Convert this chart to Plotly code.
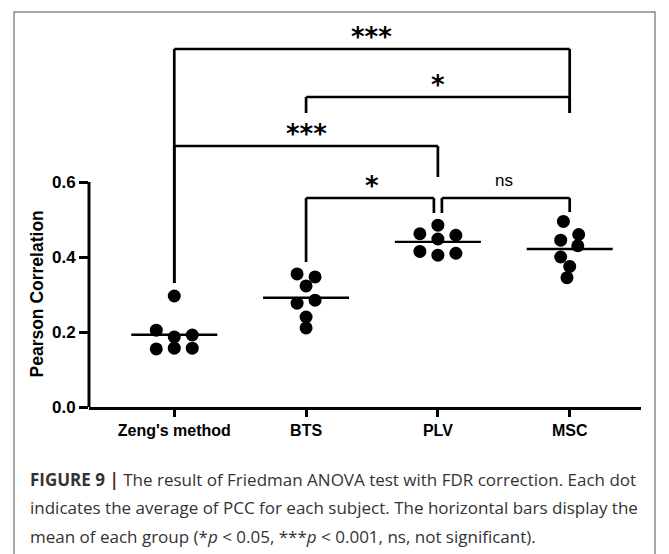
import plotly.graph_objects as go

# ---------------- data ----------------
categories = ["Zeng's method", "BTS", "PLV", "MSC"]
zeng_values = [0.296, 0.205, 0.192, 0.187, 0.155, 0.157, 0.157]
bts_values = [0.355, 0.347, 0.323, 0.285, 0.277, 0.240, 0.211]
plv_values = [0.485, 0.462, 0.458, 0.448, 0.415, 0.405, 0.410]
msc_values = [0.495, 0.460, 0.445, 0.430, 0.400, 0.375, 0.345]
y_tick_values = [0.0, 0.2, 0.4, 0.6]
y_tick_labels = ["0.0", "0.2", "0.4", "0.6"]
# significance comparisons: (group a, group b, label)
comparisons = [(0, 3, "***"), (1, 3, "*"), (0, 2, "***"), (1, 2, "*"), (2, 3, "ns")]

groups = [zeng_values, bts_values, plv_values, msc_values]

# ---------------- layout helpers (positions, not data) ----------------
W, H = 669, 554
ML, MR, MT, MB = 89, 28, 32, 147
PW, PH = W - ML - MR, H - MT - MB
XR = [-0.647, 3.541]
YR = [0.0, 1.0]
px_x = (XR[1] - XR[0]) / PW      # x units per pixel
px_y = (YR[1] - YR[0]) / PH      # y units per pixel

# swarm offsets (in dot-step units) for each dot of each group
swarm = [
    [0, -1, 1, 0, -1, 0, 1],
    [-0.5, 0.5, 0, 0.5, -0.5, 0, 0],
    [0, -1, 1, 0, -1, 0, 1],
    [-0.35, 0.5, -0.5, 0.45, -0.5, 0, -0.15],
]
step = 18 * px_x
half_bar = 43 * px_x

# bracket geometry (pixel rows): level, left drop end, right drop end
brackets = [
    dict(level=49, ldrop=283, rdrop=113, lgap=0, rgap=0),
    dict(level=97, ldrop=113, rdrop=113, lgap=0, rgap=0),
    dict(level=146, ldrop=283, rdrop=177, lgap=0, rgap=0),
    dict(level=198, ldrop=262, rdrop=213, lgap=0, rgap=-4),
    dict(level=198, ldrop=213, rdrop=212, lgap=4, rgap=0),
]


def py(pix):
    """pixel row -> data y"""
    return YR[0] + ((MT + PH) - pix) * px_y


fig = go.Figure()

# dots + mean bars
for i, vals in enumerate(groups):
    xs = [i + o * step for o in swarm[i]]
    fig.add_trace(go.Scatter(
        x=xs, y=vals, mode="markers",
        marker=dict(size=13, color="black"),
        showlegend=False, hoverinfo="skip"))
    m = sum(vals) / len(vals)
    fig.add_trace(go.Scatter(
        x=[i - half_bar, i + half_bar], y=[m, m], mode="lines",
        line=dict(color="black", width=2.4),
        showlegend=False, hoverinfo="skip"))

shapes = []
annotations = []
for (a, b, lab), g in zip(comparisons, brackets):
    xa = a + g["lgap"] * px_x
    xb = b + g["rgap"] * px_x
    yl = py(g["level"])
    for x0, y0, x1, y1 in [(xa, yl, xb, yl), (xa, yl, xa, py(g["ldrop"])),
                           (xb, yl, xb, py(g["rdrop"]))]:
        shapes.append(dict(type="line", xref="x", yref="y", x0=x0, y0=y0,
                           x1=x1, y1=y1, line=dict(color="black", width=2.7)))
    if lab == "ns":
        annotations.append(dict(x=(a + b) / 2, y=yl, xref="x", yref="y",
                                text=lab, showarrow=False, yanchor="middle",
                                yshift=18, font=dict(size=17, color="black",
                                family="Liberation Sans, Arial")))
    else:
        annotations.append(dict(x=(a + b) / 2, y=yl, xref="x", yref="y",
                                text=lab, showarrow=False, yanchor="middle",
                                yshift=12, font=dict(size=26, color="black",
                                family="DejaVu Sans", weight="bold")))

# y axis line (only 0 .. 0.6)
shapes.append(dict(type="line", xref="paper", yref="y", x0=0, x1=0,
                   y0=0, y1=y_tick_values[-1], line=dict(color="black", width=3)))

# outer frame
shapes.append(dict(type="rect", xref="paper", yref="paper",
                   x0=(14 - ML) / PW, x1=(655 - ML) / PW,
                   y0=-0.45, y1=(MT + PH - 12) / PH,
                   line=dict(color="#8a8a8a", width=1.5)))

# y axis title
annotations.append(dict(x=(38 - ML) / PW, y=0.3, xref="paper", yref="y",
                        xanchor="center", yanchor="middle", xshift=-2,
                        text="Pearson Correlation", textangle=-90, showarrow=False,
                        font=dict(size=17.5, color="black",
                                  family="Liberation Sans, Arial", weight="bold")))

caption = [
    "<b>FIGURE 9 |</b> The result of Friedman ANOVA test with FDR correction. Each dot",
    "indicates the average of PCC for each subject. The horizontal bars display the",
    "mean of each group (*<i>p</i> &lt; 0.05, ***<i>p</i> &lt; 0.001, ns, not significant).",
]
for k, line in enumerate(caption):
    pix = [479, 507, 536][k]
    annotations.append(dict(x=(28 - ML) / PW, y=(MT + PH - pix) / PH,
                            xref="paper", yref="paper", xanchor="left",
                            yanchor="middle", text=line, showarrow=False,
                            font=dict(size=17, color="#333333", family="Open Sans")))

fig.update_layout(
    width=W, height=H,
    margin=dict(l=ML, r=MR, t=MT, b=MB),
    paper_bgcolor="white", plot_bgcolor="white",
    shapes=shapes, annotations=annotations,
    xaxis=dict(range=XR, tickvals=list(range(len(categories))), ticktext=categories,
               showgrid=False, zeroline=False, showline=True, linecolor="black",
               linewidth=3, ticks="outside", ticklen=7, tickwidth=3,
               tickcolor="black",
               tickfont=dict(size=16, color="black",
                             family="Liberation Sans, Arial", weight="bold")),
    yaxis=dict(range=YR, tickvals=y_tick_values, ticktext=y_tick_labels,
               showgrid=False, zeroline=False, showline=False,
               ticks="outside", ticklen=9, tickwidth=3, tickcolor="black",
               tickfont=dict(size=17, color="black",
                             family="Liberation Sans, Arial", weight="bold")),
)

fig.write_html("out.html")
